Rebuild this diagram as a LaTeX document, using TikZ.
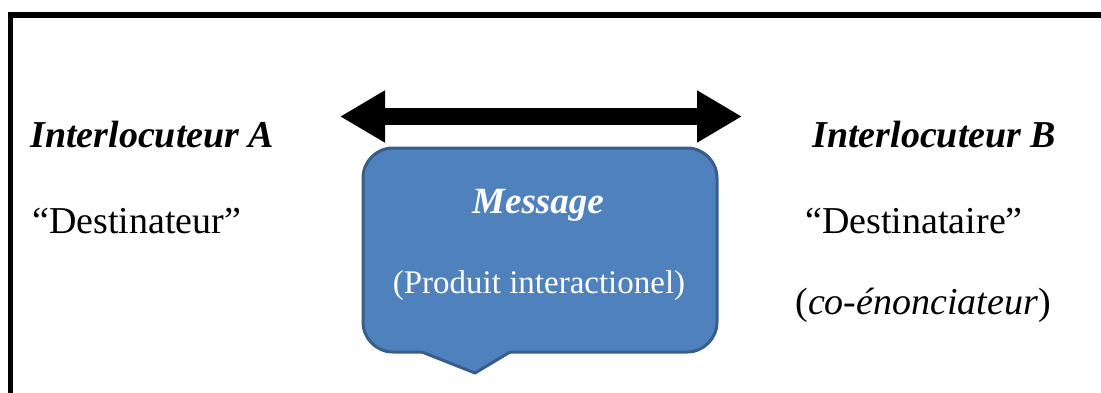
\documentclass[tikz,border=0pt]{standalone}
\usepackage{fontspec}
\setmainfont{Liberation Serif}
\usepackage{xcolor}
\usetikzlibrary{arrows.meta,positioning,calc}
\definecolor{msgblue}{HTML}{4F81BD}
\definecolor{msgedge}{HTML}{385D8A}

\begin{document}
\begin{tikzpicture}[
  x=0.5pt, y=-0.5pt,
  sidetext/.style={inner sep=0pt, anchor=base west, font=\fontsize{19pt}{22pt}\selectfont},
  speaker/.style={sidetext, font=\fontsize{19pt}{22pt}\selectfont\bfseries\itshape},
  bubble/.style={draw=msgedge, line width=1.5pt, fill=msgblue, rounded corners=15pt, minimum width=177pt, minimum height=102pt, inner sep=0pt, outer sep=0pt},
  msgtitle/.style={inner sep=0pt, anchor=base, text=white, font=\fontsize{18.5pt}{22pt}\selectfont\bfseries\itshape},
  msgtext/.style={inner sep=0pt, anchor=base, text=white, font=\fontsize{16.5pt}{20pt}\selectfont},
  arrow/.style={{Triangle[length=22.5pt,width=24.5pt]}-{Triangle[length=22.5pt,width=24.5pt]}, line width=8.5pt}
]
\useasboundingbox (0,0) rectangle (1101,392);
\clip (0,0) rectangle (1101,392);
\draw[line width=2.75pt] (10.5,400) -- (10.5,15) -- (1110,15);

\node[speaker] (speakerA) at (30,147) {Interlocuteur A};
\node[sidetext] (roleA) at (32,233) {“Destinateur”};
\node[speaker] (speakerB) at (812,147) {Interlocuteur B};
\node[sidetext] (roleB) at (805,233) {“Destinataire”};
\node[sidetext] (roleBnote) at (795,314) {(\textit{co-énonciateur})};

\node[bubble] (message) at (540,250) {};
\coordinate (tip) at (475,373);
\fill[msgblue] ([xshift=-59pt,yshift=2pt]message.south) -- ([xshift=-59pt]message.south) -- (tip)
  -- ([xshift=-15pt]message.south) -- ([xshift=-15pt,yshift=2pt]message.south) -- cycle;
\draw[msgedge, line width=1.5pt, line join=round] ([xshift=-59pt]message.south) -- (tip) -- ([xshift=-15pt]message.south);
\node[msgtitle] (title) at (538,213) {Message};
\node[msgtext] (product) at (539,293) {(Produit interactionel)};

\coordinate (leftend) at (340,116.5);
\coordinate (rightend) at (742,116.5);
\draw[arrow] (leftend) -- (rightend);
\end{tikzpicture}
\end{document}
